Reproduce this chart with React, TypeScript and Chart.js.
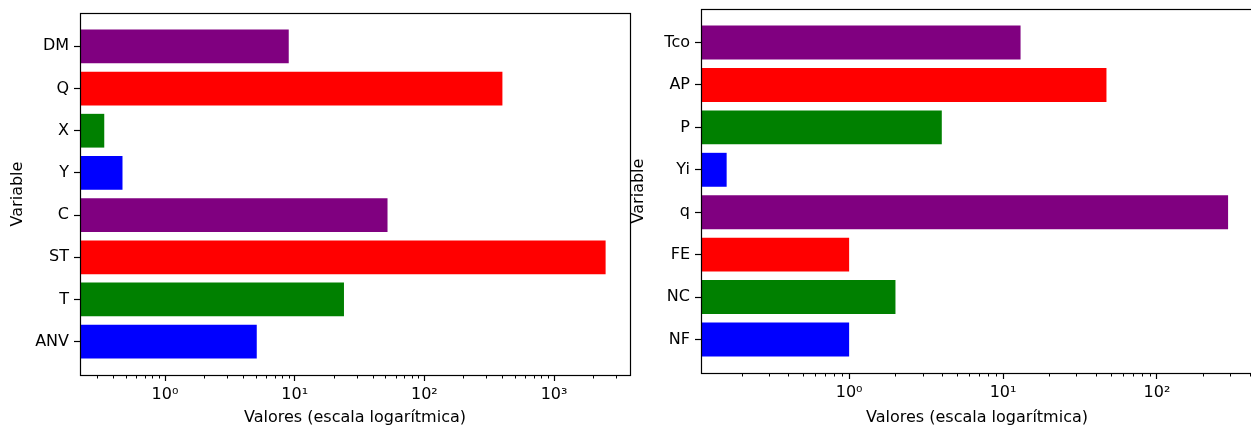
import React, { useEffect, useRef } from 'react';
import { Chart, registerables } from 'chart.js';
Chart.register(...registerables);

// ---- data ----
const leftCategories = ['ANV', 'T', 'ST', 'C', 'Y', 'X', 'Q', 'DM'];
const leftValues = [5.1, 24, 2500, 52, 0.47, 0.34, 400, 9];
const rightCategories = ['NF', 'NC', 'FE', 'q', 'Yi', 'P', 'AP', 'Tco'];
const rightValues = [1, 2, 1, 290, 0.16, 4, 47, 13];
const barColors = ['#0000ff', '#008000', '#ff0000', '#800080'];
const leftXRange = [0.221, 3855];
const rightXRange = [0.109, 421];
const yRange = [-0.79, 7.79];
const xTitle = 'Valores (escala logarítmica)';
const yTitle = 'Variable';

const FONT = "'DejaVu Sans', sans-serif";
const FS = 16;
const SUP: Record<string, string> = { '0': '⁰', '1': '¹', '2': '²', '3': '³', '4': '⁴', '-': '⁻' };
const supStr = (n: number) => String(n).split('').map((c) => SUP[c] || c).join('');

const framePlugin = {
  id: 'frame',
  afterDraw(chart: any) {
    const { ctx, chartArea: a } = chart;
    ctx.save();
    ctx.strokeStyle = '#000';
    ctx.lineWidth = 1.2;
    ctx.strokeRect(Math.round(a.left) + 0.5, Math.round(a.top) + 0.5, Math.round(a.right - a.left), Math.round(a.bottom - a.top));
    ctx.lineWidth = 1;
    const xs = chart.scales.x;
    const k0 = Math.floor(Math.log10(xs.min));
    const k1 = Math.ceil(Math.log10(xs.max));
    for (let k = k0; k <= k1; k++) {
      for (let m = 2; m <= 9; m++) {
        const v = m * Math.pow(10, k);
        if (v < xs.min || v > xs.max) continue;
        const px = Math.round(xs.getPixelForValue(v)) + 0.5;
        ctx.beginPath();
        ctx.moveTo(px, Math.round(a.bottom));
        ctx.lineTo(px, Math.round(a.bottom) + 3.5);
        ctx.stroke();
      }
    }
    ctx.restore();
  },
};

function makeConfig(cats: string[], vals: number[], xr: number[], pad: any, xAxisH: number) {
  return {
    type: 'bar' as const,
    data: {
      datasets: [
        {
          data: vals.map((v, i) => ({ x: v, y: i })),
          backgroundColor: vals.map((_, i) => barColors[i % barColors.length]),
          borderWidth: 0,
          categoryPercentage: 1,
          barPercentage: 0.8,
        },
      ],
    },
    options: {
      indexAxis: 'y' as const,
      responsive: false,
      animation: false as const,
      layout: { padding: pad },
      plugins: { legend: { display: false }, tooltip: { enabled: false } },
      scales: {
        x: {
          type: 'logarithmic' as const,
          min: xr[0],
          max: xr[1],
          offset: false,
          border: { display: false },
          grid: { offset: false, drawOnChartArea: false, drawTicks: true, tickLength: 6, tickColor: '#000', tickWidth: 1.2 },
          ticks: {
            color: '#000',
            font: { family: FONT, size: FS },
            padding: 4,
            autoSkip: false,
            maxRotation: 0,
            callback: (v: any) => '10' + supStr(Math.round(Math.log10(Number(v)))),
          },
          afterBuildTicks: (scale: any) => {
            const t: any[] = [];
            for (let k = -3; k <= 6; k++) {
              const v = Math.pow(10, k);
              if (v >= xr[0] && v <= xr[1]) t.push({ value: v });
            }
            scale.ticks = t;
          },
          afterFit: (scale: any) => {
            scale.height = xAxisH;
            scale.paddingLeft = 0;
            scale.paddingRight = 0;
          },
          title: {
            display: true,
            text: xTitle,
            color: '#000',
            font: { family: FONT, size: FS },
            padding: { top: 0, bottom: 0 },
          },
        },
        y: {
          type: 'linear' as const,
          min: yRange[0],
          max: yRange[1],
          bounds: 'data' as const,
          offset: false,
          border: { display: false },
          grid: { offset: false, drawOnChartArea: false, drawTicks: true, tickLength: 6, tickColor: '#000', tickWidth: 1.2 },
          ticks: {
            color: '#000',
            font: { family: FONT, size: FS },
            padding: 5,
            autoSkip: false,
            callback: (v: any) => cats[Math.round(Number(v))] ?? '',
          },
          afterBuildTicks: (scale: any) => {
            scale.ticks = cats.map((_, i) => ({ value: i }));
          },
          afterFit: (scale: any) => {
            scale.width = 80;
            scale.paddingTop = 0;
            scale.paddingBottom = 0;
          },
          title: {
            display: true,
            text: yTitle,
            color: '#000',
            font: { family: FONT, size: FS },
            padding: { top: 8, bottom: 0 },
          },
        },
      },
    },
    plugins: [framePlugin],
  };
}

function BarPanel(props: { cats: string[]; vals: number[]; xr: number[]; pad: any; xAxisH: number; left: number; width: number }) {
  const ref = useRef<HTMLCanvasElement>(null);
  useEffect(() => {
    if (!ref.current) return;
    const chart = new Chart(ref.current, makeConfig(props.cats, props.vals, props.xr, props.pad, props.xAxisH) as any);
    return () => chart.destroy();
  }, []);
  return (
    <canvas
      ref={ref}
      width={props.width}
      height={427}
      style={{ position: 'absolute', left: props.left, top: 0, width: props.width, height: 427, display: 'block' }}
    />
  );
}

export default function App() {
  return (
    <div style={{ position: 'fixed', left: 0, top: 0, width: 1251, height: 427, overflow: 'hidden', background: '#fff' }}>
      <BarPanel cats={leftCategories} vals={leftValues} xr={leftXRange} pad={{ left: 0, top: 13, right: 4, bottom: 0 }} xAxisH={52} left={0} width={634} />
      <BarPanel cats={rightCategories} vals={rightValues} xr={rightXRange} pad={{ left: 0, top: 9, right: 8, bottom: 0 }} xAxisH={54} left={621} width={640} />
    </div>
  );
}
